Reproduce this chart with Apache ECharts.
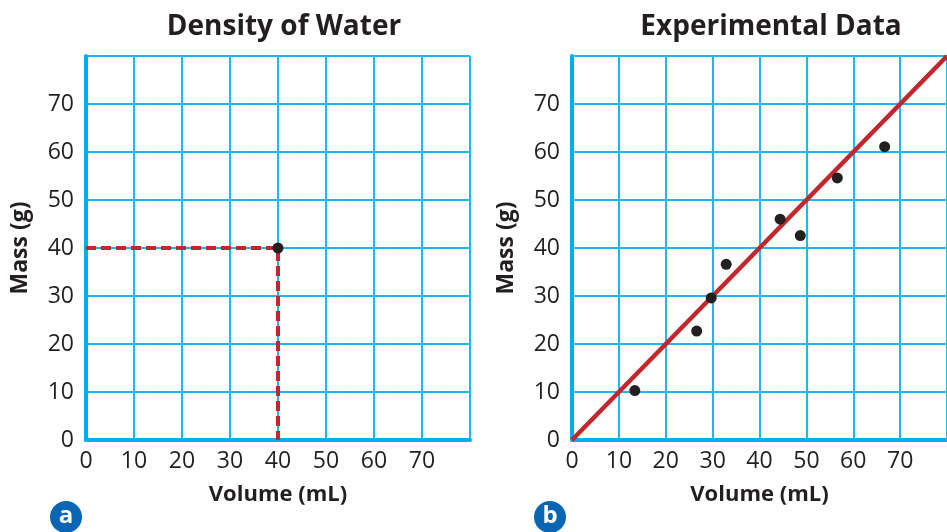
<!DOCTYPE html>
<html>
<head>
<meta charset="utf-8">
<script src="https://cdn.jsdelivr.net/npm/echarts@6/dist/echarts.min.js"></script>
<style>
html,body{margin:0;padding:0;background:#fff;}
#chart{width:947px;height:532px;}
</style>
</head>
<body>
<div id="chart"></div>
<script>
// ---- data ----
const titles = ["Density of Water", "Experimental Data"];
const xAxisName = "Volume (mL)";
const yAxisName = "Mass (g)";
const panelBadges = ["a", "b"];
const tickLabels = ["0", "10", "20", "30", "40", "50", "60", "70"];
// panel a: reading a mass from volume
const densityPoint = [40, 40];
const guideLine = [[0, 40], [40, 40], [40, 0]];
// panel b: experimental points and best-fit line
const expVolume = [13.4, 26.6, 29.7, 32.9, 44.4, 48.7, 56.6, 66.7];
const expMass   = [10.3, 22.7, 29.6, 36.6, 46.0, 42.6, 54.6, 61.1];
const fitLine = [[0, 0], [80, 80]];

// ---- styles ----
const ink = '#231f20';
const cyan = '#00aeef';
const gridCyan = '#22b5ee';
const red = '#c1272d';
const font = '"Open Sans", "Noto Sans", sans-serif';

function makeAxis(idx, isX) {
  return {
    type: 'value', gridIndex: idx, min: 0, max: 80, interval: 10,
    name: isX ? xAxisName : yAxisName,
    nameLocation: 'middle',
    nameGap: isX ? 44 : 54,
    nameTextStyle: { fontFamily: font, fontWeight: 'bold', fontSize: isX ? 22 : 23, color: ink },
    axisLine: { show: true, onZero: false, lineStyle: { color: cyan, width: 4 } },
    axisTick: { show: false },
    axisLabel: {
      fontFamily: font, fontSize: 23, color: ink, margin: isX ? 10 : 12,
      showMaxLabel: false,
      formatter: v => tickLabels[Math.round(v / 10)] !== undefined ? tickLabels[Math.round(v / 10)] : ''
    },
    splitLine: { show: true, lineStyle: { color: gridCyan, width: 2 } }
  };
}

const chart = echarts.init(document.getElementById('chart'), null, { renderer: 'canvas' });
chart.setOption({
  backgroundColor: '#fff',
  animation: false,
  title: [
    { text: titles[0], left: 279, top: 8, textAlign: 'center',
      textStyle: { fontFamily: font, fontWeight: 'bold', fontSize: 28, color: ink } },
    { text: titles[1], left: 766, top: 8, textAlign: 'center',
      textStyle: { fontFamily: font, fontWeight: 'bold', fontSize: 28, color: ink } }
  ],
  grid: [
    { left: 86, top: 56, width: 384, height: 384 },
    { left: 572, top: 56, width: 384, height: 384 }
  ],
  xAxis: [makeAxis(0, true), makeAxis(1, true)],
  yAxis: [makeAxis(0, false), makeAxis(1, false)],
  series: [
    { type: 'line', xAxisIndex: 0, yAxisIndex: 0, data: guideLine, symbol: 'none',
      lineStyle: { color: red, width: 4, type: [10, 5] }, z: 3 },
    { type: 'scatter', xAxisIndex: 0, yAxisIndex: 0, data: [densityPoint],
      symbolSize: 11, itemStyle: { color: ink, opacity: 1 }, z: 4 },
    { type: 'line', xAxisIndex: 1, yAxisIndex: 1, data: fitLine, symbol: 'none',
      lineStyle: { color: red, width: 4.5 }, z: 3 },
    { type: 'scatter', xAxisIndex: 1, yAxisIndex: 1,
      data: expVolume.map((v, i) => [v, expMass[i]]),
      symbolSize: 11, itemStyle: { color: ink, opacity: 1 }, z: 4 }
  ],
  graphic: [
    { type: 'circle', shape: { cx: 66, cy: 517, r: 16 }, style: { fill: '#0a66b4' } },
    { type: 'text', x: 66, y: 516, style: { text: panelBadges[0], fill: '#fff', font: 'bold 24px ' + font, align: 'center', verticalAlign: 'middle' } },
    { type: 'circle', shape: { cx: 550, cy: 517, r: 16 }, style: { fill: '#0a66b4' } },
    { type: 'text', x: 550, y: 516, style: { text: panelBadges[1], fill: '#fff', font: 'bold 24px ' + font, align: 'center', verticalAlign: 'middle' } }
  ]
});
</script>
</body>
</html>
